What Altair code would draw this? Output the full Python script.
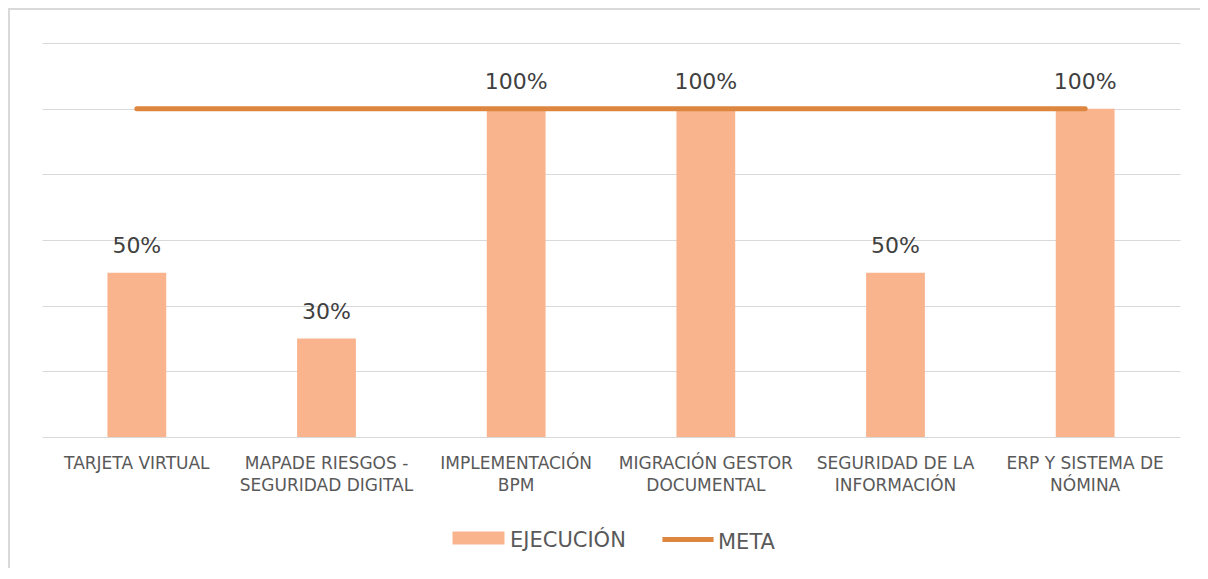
import altair as alt
import pandas as pd

categories = [
    "TARJETA VIRTUAL",
    "MAPADE RIESGOS -\nSEGURIDAD DIGITAL",
    "IMPLEMENTACIÓN\nBPM",
    "MIGRACIÓN GESTOR\nDOCUMENTAL",
    "SEGURIDAD DE LA\nINFORMACIÓN",
    "ERP Y SISTEMA DE\nNÓMINA",
]
ejecucion = [0.5, 0.3, 1.0, 1.0, 0.5, 1.0]
meta = [1.0, 1.0, 1.0, 1.0, 1.0, 1.0]
y_ticks = [0, 0.2, 0.4, 0.6, 0.8, 1.0, 1.2]

BAR = "#F9B48E"
LINE = "#DD8640"
FONT = "DejaVu Sans"

df = pd.DataFrame({"cat": categories, "ejec": ejecucion, "meta": meta})

x = alt.X(
    "cat:N",
    sort=categories,
    scale=alt.Scale(paddingInner=0.69, paddingOuter=0.345),
    axis=alt.Axis(
        title=None,
        domain=False,
        ticks=False,
        labelAngle=0,
        labelFont=FONT,
        labelFontSize=17,
        labelColor="#595959",
        labelPadding=18,
        labelLineHeight=22,
        labelExpr="split(datum.label, '\\n')",
    ),
)
y_scale = alt.Scale(domain=[0, 1.2], nice=False)

legend_common = dict(
    title=None,
    orient="none",
    direction="horizontal",
    labelFont=FONT,
    labelFontSize=21,
    labelColor="#595959",
    legendY=470,
    symbolSize=3025,
)

bars = alt.Chart(df).transform_calculate(serie="'EJECUCIÓN'").mark_bar().encode(
    x=x,
    y=alt.Y(
        "ejec:Q",
        scale=y_scale,
        axis=alt.Axis(
            title=None,
            labels=False,
            ticks=False,
            domain=False,
            values=y_ticks,
            gridColor="#D9D9D9",
            gridWidth=1,
        ),
    ),
    fill=alt.Fill(
        "serie:N",
        scale=alt.Scale(domain=["EJECUCIÓN"], range=[BAR]),
        legend=alt.Legend(
            legendX=409,
            labelOffset=4,
            symbolType="M-0.945,-0.326L0.945,-0.326L0.945,0.146L-0.945,0.146Z",
            symbolStrokeWidth=0,
            **legend_common,
        ),
    ),
)

labels = alt.Chart(df).mark_text(
    font=FONT, fontSize=22, color="#404040", baseline="alphabetic", dy=-20
).encode(
    x=x,
    y=alt.Y("ejec:Q", scale=y_scale),
    text=alt.Text("ejec:Q", format=".0%"),
)

line = alt.Chart(df).transform_calculate(serie2="'META'").mark_line(
    strokeWidth=5, strokeCap="round"
).encode(
    x=x,
    y=alt.Y("meta:Q", scale=y_scale),
    stroke=alt.Stroke(
        "serie2:N",
        scale=alt.Scale(domain=["META"], range=[LINE]),
        legend=alt.Legend(
            legendX=616,
            labelOffset=0,
            symbolType="M-0.93,-0.13L0.93,-0.13",
            symbolStrokeWidth=5,
            **legend_common,
        ),
    ),
)

border = alt.Chart(pd.DataFrame({"a": [0]})).mark_rect(
    fill="transparent", stroke="#D9D9D9", strokeWidth=2
).encode(
    x=alt.value(-33), x2=alt.value(1200), y=alt.value(-34), y2=alt.value(600)
)

chart = alt.layer(border, bars, line, labels).properties(
    width=1138,
    height=394,
    autosize=alt.AutoSizeParams(type="none"),
    padding={"left": 34, "top": 35, "right": 20, "bottom": 131},
    background="white",
).configure_view(stroke=None)

chart.save("out.html", embed_options={"renderer": "svg", "actions": False})
